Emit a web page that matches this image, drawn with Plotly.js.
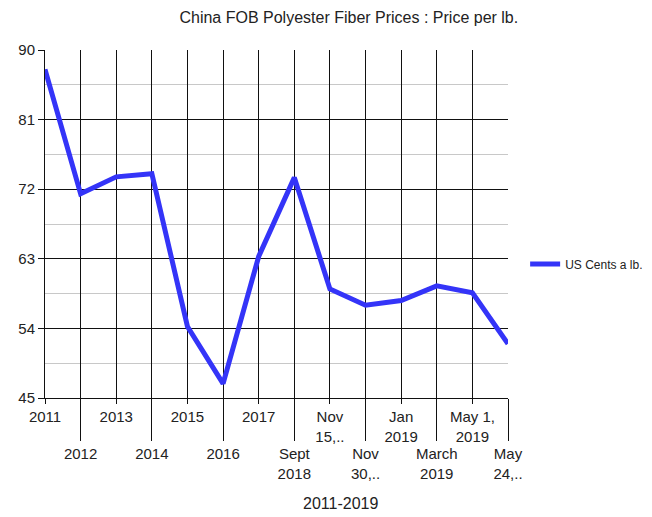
<!DOCTYPE html>
<html>
<head>
<meta charset="utf-8">
<script src="https://cdn.plot.ly/plotly-3.0.1.min.js"></script>
<style>
  html, body { margin: 0; padding: 0; background: #fff; }
  #chart { width: 652px; height: 517px; }
</style>
</head>
<body>
<div id="chart"></div>
<script>
// Sampling dates (category axis)
const categories = [
  "2011", "2012", "2013", "2014", "2015", "2016", "2017",
  "Sept 2018", "Nov 15, 2018", "Nov 30, 2018", "Jan 2019",
  "March 2019", "May 1, 2019", "May 24, 2019"
];
// Axis labels as printed under each category
const tickLabels = [
  "2011", "2012", "2013", "2014", "2015", "2016", "2017",
  "Sept<br>2018", "Nov<br>15,..", "Nov<br>30,..", "Jan<br>2019",
  "March<br>2019", "May 1,<br>2019", "May<br>24,.."
];
// US cents per lb
const usCents = [87.5, 71.4, 73.6, 74.0, 54.25, 46.85, 63.3, 73.5, 59.1, 57.0, 57.6, 59.5, 58.6, 52.0];

const seriesName = "US Cents a lb.";
const chartTitle = "China FOB Polyester Fiber Prices : Price per lb.";
const periodLabel = "2011-2019";

// Staggered tick labels: first row on even positions, second row on odd positions
const rowA = categories.filter((c, i) => i % 2 === 0);
const rowB = categories.filter((c, i) => i % 2 === 1);
const rowAText = tickLabels.filter((c, i) => i % 2 === 0);
const rowBText = tickLabels.filter((c, i) => i % 2 === 1);

const FONT = "Liberation Sans, Arial, sans-serif";
const tickFont = { family: FONT, size: 15, color: "#222" };

const catAxis = {
  type: "category",
  categoryorder: "array",
  categoryarray: categories,
  range: [0, 13],
  zeroline: false,
  fixedrange: true
};

function hiddenTrace(axis) {
  return {
    type: "scatter", mode: "lines", x: categories, y: usCents,
    line: { color: "rgba(0,0,0,0)", width: 0 },
    showlegend: false, hoverinfo: "skip", xaxis: axis, yaxis: "y"
  };
}

const traces = [
  hiddenTrace("x2"),
  hiddenTrace("x3"),
  {
    type: "scatter",
    mode: "lines",
    name: seriesName,
    x: categories,
    y: usCents,
    line: { color: "#3434f8", width: 5 },
    xaxis: "x",
    yaxis: "y"
  }
];

const layout = {
  width: 652,
  height: 517,
  margin: { l: 45, r: 144, t: 50, b: 119, autoexpand: false },
  paper_bgcolor: "#fff",
  plot_bgcolor: "#fff",
  font: { family: FONT, color: "#222" },
  title: {
    text: chartTitle,
    font: { family: FONT, size: 16, color: "#222" },
    xref: "container", x: 0.535, xanchor: "center",
    yref: "container", y: 0.966, yanchor: "middle"
  },
  // first label row, short ticks
  xaxis: Object.assign({}, catAxis, {
    tickmode: "array",
    tickvals: rowA,
    ticktext: rowAText,
    ticks: "outside",
    ticklen: 5,
    tickcolor: "#111",
    tickfont: tickFont,
    showgrid: false,
    showline: true,
    linecolor: "#111"
  }),
  // second label row, long ticks
  xaxis2: Object.assign({}, catAxis, {
    overlaying: "x",
    anchor: "y",
    side: "bottom",
    tickmode: "array",
    tickvals: rowB,
    ticktext: rowBText,
    ticks: "outside",
    ticklen: 42,
    tickcolor: "#111",
    tickfont: tickFont,
    showgrid: false,
    showline: false
  }),
  // vertical grid at every category
  xaxis3: Object.assign({}, catAxis, {
    overlaying: "x",
    anchor: "y",
    showgrid: true,
    gridcolor: "#111",
    gridwidth: 1,
    showticklabels: false,
    ticks: "",
    showline: false
  }),
  yaxis: {
    range: [45, 90],
    tick0: 45,
    dtick: 9,
    ticks: "outside",
    ticklen: 6,
    tickcolor: "#111",
    tickfont: tickFont,
    showgrid: true,
    gridcolor: "#111",
    gridwidth: 1,
    showline: true,
    linecolor: "#111",
    zeroline: false,
    minor: { tick0: 45, dtick: 4.5, showgrid: true, gridcolor: "#c8c8c8", gridwidth: 1 },
    fixedrange: true
  },
  legend: {
    x: 1.037, xanchor: "left",
    y: 0.385, yanchor: "middle",
    font: { family: FONT, size: 12, color: "#222" },
    bgcolor: "rgba(0,0,0,0)"
  },
  showlegend: true,
  annotations: [
    {
      text: periodLabel,
      xref: "paper", yref: "paper",
      x: 0.638, y: -0.302,
      xanchor: "center", yanchor: "middle",
      showarrow: false,
      font: { family: FONT, size: 16, color: "#222" }
    }
  ]
};

Plotly.newPlot("chart", traces, layout, { displayModeBar: false, staticPlot: true });
</script>
</body>
</html>
